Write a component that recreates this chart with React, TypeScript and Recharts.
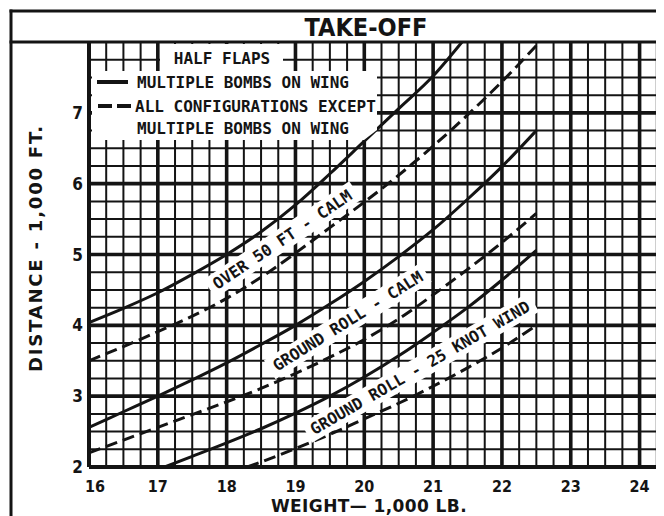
import React from 'react';
import { LineChart, Line, XAxis, YAxis, CartesianGrid, ReferenceDot, ReferenceLine, Legend, Customized } from 'recharts';

// ---- axis values ----
const weightTicks = [16, 17, 18, 19, 20, 21, 22, 23, 24];
const distanceTicks = [2, 3, 4, 5, 6, 7];
const weightDomain: [number, number] = [16, 24.5];
const distanceDomain: [number, number] = [2, 8];
const minorWeightTicks = Array.from({ length: 35 }, (_, i) => 16 + i * 0.25);
const minorDistanceTicks = Array.from({ length: 25 }, (_, i) => 2 + i * 0.25);

// ---- series (weight 1,000 lb -> distance 1,000 ft) ----
const over50SolidW = [16, 16.5, 17, 17.5, 18, 18.5, 19, 19.5, 20, 20.5, 21, 21.42];
const over50SolidD = [4.04, 4.24, 4.46, 4.72, 5.0, 5.32, 5.7, 6.14, 6.6, 7.06, 7.52, 8.0];

const over50DashedW = [16, 16.5, 17, 17.5, 18, 18.5, 19, 19.5, 20, 20.5, 21, 21.5, 22, 22.5];
const over50DashedD = [3.5, 3.7, 3.91, 4.13, 4.38, 4.68, 5.02, 5.38, 5.74, 6.12, 6.53, 6.97, 7.44, 7.95];

const calmSolidW = [16, 16.5, 17, 17.5, 18, 18.5, 19, 19.5, 20, 20.5, 21, 21.5, 22, 22.5];
const calmSolidD = [2.56, 2.78, 3.0, 3.23, 3.47, 3.73, 4.0, 4.3, 4.62, 4.97, 5.35, 5.78, 6.24, 6.75];

const calmDashedW = [16, 16.5, 17, 17.5, 18, 18.5, 19, 19.5, 20, 20.5, 21, 21.5, 22, 22.5];
const calmDashedD = [2.2, 2.38, 2.56, 2.74, 2.92, 3.11, 3.32, 3.55, 3.8, 4.09, 4.43, 4.79, 5.17, 5.58];

const windSolidW = [17.1, 17.5, 18, 18.5, 19, 19.5, 20, 20.5, 21, 21.5, 22, 22.5];
const windSolidD = [2.0, 2.15, 2.34, 2.54, 2.76, 3.0, 3.27, 3.57, 3.9, 4.25, 4.64, 5.06];

const windDashedW = [18.3, 18.5, 19, 19.5, 20, 20.5, 21, 21.5, 22, 22.5];
const windDashedD = [2.0, 2.07, 2.26, 2.46, 2.68, 2.9, 3.14, 3.4, 3.68, 4.0];

// ---- curve labels ----
const curveLabels = [
  { text: 'OVER 50 FT - CALM', w: 18.81, d: 5.21, angle: -34, len: 176 },
  { text: 'GROUND ROLL - CALM', w: 19.76, d: 4.06, angle: -32, len: 184 },
  { text: 'GROUND ROLL - 25 KNOT WIND', w: 20.81, d: 3.4, angle: -30, len: 262 },
];

const toPoints = (ws: number[], ds: number[]) => ws.map((w, i) => ({ w, d: ds[i] }));

const INK = '#141414';
const MONO = "'DejaVu Sans Mono', 'Liberation Mono', monospace";
const COND = "'DejaVu Sans Condensed', 'Liberation Sans Narrow', 'DejaVu Sans', sans-serif";
const BOLD = "'DejaVu Sans', 'Liberation Sans', sans-serif";

const CurveLabel = (props: any) => {
  const { cx, cy, text, angle, len } = props;
  if (cx == null || cy == null) return null;
  return (
    <g transform={`rotate(${angle}, ${cx}, ${cy})`}>
      <rect x={cx - len / 2} y={cy - 11} width={len} height={22} fill="#fff" />
      <text
        x={cx}
        y={cy}
        textAnchor="middle"
        dominantBaseline="central"
        fontFamily={MONO}
        fontWeight="bold"
        fontSize={16}
        fill={INK}
      >
        {text}
      </text>
    </g>
  );
};

const LegendBox = () => (
  <svg width={288} height={104} style={{ display: 'block', overflow: 'visible' }}>
    <rect x={68} y={2} width={123} height={27} fill="#fff" />
    <text x={130} y={16} textAnchor="middle" dominantBaseline="central" fontFamily={MONO} fontWeight="bold" fontSize={16} fill={INK}>
      HALF FLAPS
    </text>
    <polygon points="0,29 285,29 285,88 272,98 0,98" fill="#fff" />
    <line x1={5} y1={40} x2={36} y2={40} stroke={INK} strokeWidth={4} />
    <text x={45} y={40} dominantBaseline="central" fontFamily={MONO} fontWeight="bold" fontSize={16} fill={INK}>
      MULTIPLE BOMBS ON WING
    </text>
    <line x1={6} y1={64} x2={39} y2={64} stroke={INK} strokeWidth={4} strokeDasharray="14 5" />
    <text x={43} y={64} dominantBaseline="central" fontFamily={MONO} fontWeight="bold" fontSize={16} fill={INK}>
      ALL CONFIGURATIONS EXCEPT
    </text>
    <text x={45} y={86} dominantBaseline="central" fontFamily={MONO} fontWeight="bold" fontSize={16} fill={INK}>
      MULTIPLE BOMBS ON WING
    </text>
  </svg>
);

const Frame = () => (
  <g>
    <line x1={3} y1={1.5} x2={3} y2={508} stroke={INK} strokeWidth={3} />
    <line x1={1.5} y1={3} x2={666} y2={3} stroke={INK} strokeWidth={3} />
    <line x1={1.5} y1={34} x2={666} y2={34} stroke={INK} strokeWidth={3} />
    <text x={358} y={28} textAnchor="middle" fontFamily={COND} fontWeight="bold" fontSize={25} fill={INK}>
      TAKE-OFF
    </text>
    <text
      transform="translate(27,240) rotate(-90)"
      textAnchor="middle"
      dominantBaseline="central"
      fontFamily={BOLD}
      fontWeight="bold"
      fontSize={18}
      letterSpacing={1.8}
      fill={INK}
    >
      DISTANCE - 1,000 FT.
    </text>
    <text x={361} y={504} textAnchor="middle" fontFamily={BOLD} fontWeight="bold" fontSize={17} letterSpacing={0.4} fill={INK}>
      WEIGHT— 1,000 LB.
    </text>
  </g>
);

const isWhole = (v: number) => Math.abs(v - Math.round(v)) < 1e-6;

const XTick = (props: any) => {
  const { x, y, payload } = props;
  const v = payload.value;
  if (!isWhole(v) || !weightTicks.includes(v)) return null;
  const shift = v === 16 ? 6 : 0;
  return (
    <text x={x + shift} y={y} dy="0.71em" textAnchor="middle" fontFamily={COND} fontWeight="bold" fontSize={16} fill={INK}>
      {v}
    </text>
  );
};

const YTick = (props: any) => {
  const { x, y, payload } = props;
  const v = payload.value;
  if (!isWhole(v) || !distanceTicks.includes(v)) return null;
  return (
    <text x={x} y={y} dy="0.36em" textAnchor="end" fontFamily={COND} fontWeight="bold" fontSize={17} fill={INK}>
      {v}
    </text>
  );
};

const series = [
  { key: 'o50s', data: toPoints(over50SolidW, over50SolidD), dash: undefined },
  { key: 'o50d', data: toPoints(over50DashedW, over50DashedD), dash: '12 6' },
  { key: 'gcs', data: toPoints(calmSolidW, calmSolidD), dash: undefined },
  { key: 'gcd', data: toPoints(calmDashedW, calmDashedD), dash: '12 6' },
  { key: 'gws', data: toPoints(windSolidW, windSolidD), dash: undefined },
  { key: 'gwd', data: toPoints(windDashedW, windDashedD), dash: '12 6' },
];

export default function App() {
  return (
    <div style={{ width: 656, height: 508, overflow: 'hidden', position: 'relative', background: '#fff' }}>
      <LineChart width={666} height={508} margin={{ top: 34, right: 0, bottom: 0, left: 0 }}>
        <CartesianGrid stroke={INK} strokeWidth={2} />
        <XAxis
          type="number"
          dataKey="w"
          domain={weightDomain}
          ticks={minorWeightTicks}
          interval={0}
          height={49}
          tickSize={0}
          tickMargin={14}
          tickLine={false}
          axisLine={{ stroke: INK, strokeWidth: 4 }}
          tick={<XTick />}
          allowDataOverflow
        />
        <YAxis
          type="number"
          domain={distanceDomain}
          ticks={minorDistanceTicks}
          interval={0}
          width={81}
          tickSize={0}
          tickMargin={6}
          tickLine={false}
          axisLine={{ stroke: INK, strokeWidth: 4 }}
          tick={<YTick />}
          allowDataOverflow
        />
        {weightTicks.map((v) => (
          <ReferenceLine key={`vx${v}`} x={v} stroke={INK} strokeWidth={3.6} />
        ))}
        {distanceTicks.map((v) => (
          <ReferenceLine key={`hy${v}`} y={v} stroke={INK} strokeWidth={3.6} />
        ))}
        {series.map((s) => (
          <Line
            key={s.key}
            data={s.data}
            dataKey="d"
            type="monotone"
            stroke={INK}
            strokeWidth={3}
            strokeDasharray={s.dash}
            dot={false}
            activeDot={false}
            legendType="none"
            isAnimationActive={false}
          />
        ))}
        {curveLabels.map((l) => (
          <ReferenceDot
            key={l.text}
            x={l.w}
            y={l.d}
            r={1}
            shape={(p: any) => <CurveLabel {...p} text={l.text} angle={l.angle} len={l.len} />}
          />
        ))}
        <Legend
          layout="vertical"
          align="center"
          verticalAlign="middle"
          wrapperStyle={{ left: 84, top: 34, width: 288, height: 104 }}
          content={() => <LegendBox />}
        />
        <Customized component={Frame} />
      </LineChart>
    </div>
  );
}
